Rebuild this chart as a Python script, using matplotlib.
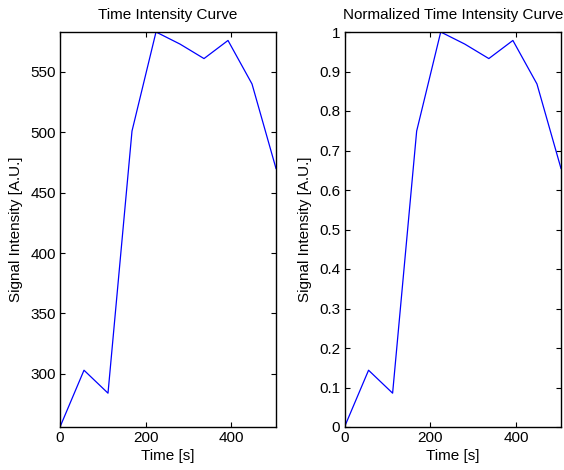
import matplotlib
matplotlib.use('Agg')
import matplotlib.pyplot as plt
import numpy as np

plt.rcParams['font.family'] = ['Liberation Sans', 'DejaVu Sans']
plt.rcParams['font.size'] = 11

# sample times [s] and raw signal intensity
time_s = [0, 56, 112, 168, 224, 280, 336, 392, 448, 504]
signal = [256, 303, 284, 501, 583, 573, 561, 576, 540, 470]

left_yticks = [300, 350, 400, 450, 500, 550]
right_yticks = [0, 0.1, 0.2, 0.3, 0.4, 0.5, 0.6, 0.7, 0.8, 0.9, 1]
right_ylabels = ['0', '0.1', '0.2', '0.3', '0.4', '0.5', '0.6', '0.7', '0.8', '0.9', '1']
xticks = [0, 200, 400]

t = np.array(time_s)
s = np.array(signal, dtype=float)
norm = (s - s.min()) / (s.max() - s.min())

fig = plt.figure(figsize=(5.64, 4.70), dpi=100)
ax1 = fig.add_axes([60 / 564, 43 / 470, 216 / 564, 395 / 470])
ax2 = fig.add_axes([344.5 / 564, 43 / 470, 216.5 / 564, 395 / 470])


def style(ax):
    ax.tick_params(direction='in', length=3.5, width=0.8, top=True, right=True,
                   labelsize=11, pad=3, colors='black')
    for sp in ax.spines.values():
        sp.set_linewidth(1.0)
    ax.set_xticks(xticks)
    ax.set_xlim(t.min(), t.max())
    ax.set_xlabel('Time [s]', labelpad=3)
    ax.set_ylabel('Signal Intensity [A.U.]', labelpad=5)


ax1.plot(t, s, color='#0000ff', linewidth=0.9)
style(ax1)
ax1.set_ylim(s.min(), s.max())
ax1.set_yticks(left_yticks)
ax1.set_title('Time Intensity Curve', fontsize=11, pad=9)

ax2.plot(t, norm, color='#0000ff', linewidth=0.9)
style(ax2)
ax2.set_ylim(0, 1)
ax2.set_yticks(right_yticks)
ax2.set_yticklabels(right_ylabels)
ax2.set_title('Normalized Time Intensity Curve', fontsize=11, pad=9)

fig.savefig('out.png', dpi=100)
